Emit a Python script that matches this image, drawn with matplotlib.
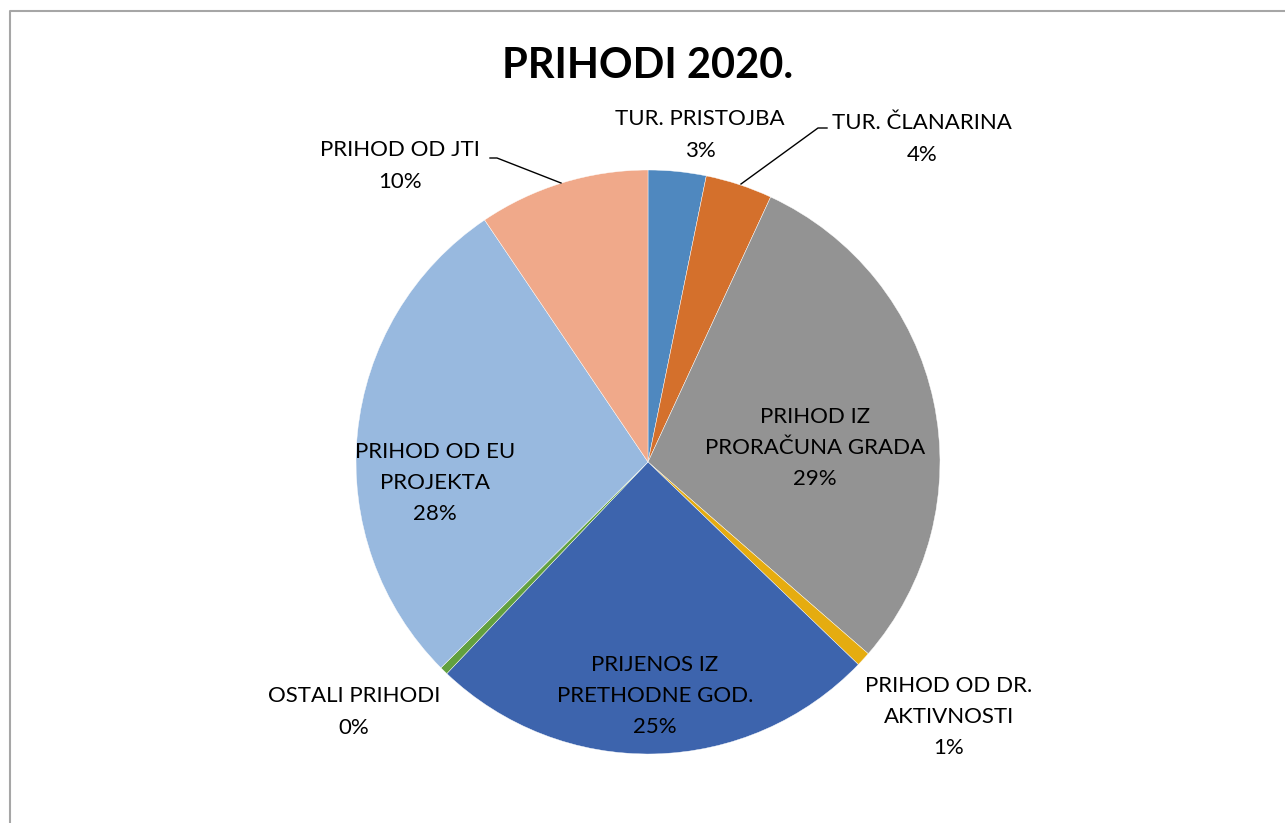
import matplotlib
matplotlib.use('Agg')
import matplotlib.pyplot as plt

# data
categories = ['TUR. PRISTOJBA', 'TUR. ČLANARINA', 'PRIHOD IZ PRORAČUNA GRADA',
              'PRIHOD OD DR. AKTIVNOSTI', 'PRIJENOS IZ PRETHODNE GOD.',
              'OSTALI PRIHODI', 'PRIHOD OD EU PROJEKTA', 'PRIHOD OD JTI']
shares = [3.2, 3.7, 29.5, 0.8, 24.9, 0.45, 28.0, 9.45]
pct_labels = ['3%', '4%', '29%', '1%', '25%', '0%', '28%', '10%']
colors = ['#4F88BF', '#D4702C', '#939393', '#E5AC10',
          '#3D64AD', '#62A03F', '#98B9DF', '#F0A98A']

plt.rcParams['font.family'] = ['Lato', 'DejaVu Sans']

W, H = 1285, 823
fig = plt.figure(figsize=(W / 100, H / 100), dpi=100)
ax = fig.add_axes([0, 0, 1, 1])

# outer frame (only left and top visible)
ax.plot([9.5, 9.5, W], [0, H - 11, H - 11], color='#A6A6A6', lw=1.5)

cx, cy, r = 648, H - 462, 292
ax.pie(shares, colors=colors, startangle=90, counterclock=False,
       center=(cx, cy), radius=r, frame=True,
       wedgeprops=dict(linewidth=0.3, edgecolor='white'))
ax.set_xlim(0, W)
ax.set_ylim(0, H)
ax.set_aspect('equal')
ax.axis('off')

ax.text(648, H - 66, 'PRIHODI 2020.', ha='center', va='center',
        fontsize=30, fontweight='bold')

# label text per slice (wrapped like the original)
label_text = ['TUR. PRISTOJBA', 'TUR. ČLANARINA', 'PRIHOD IZ\nPRORAČUNA GRADA',
              'PRIHOD OD DR.\nAKTIVNOSTI', 'PRIJENOS IZ\nPRETHODNE GOD.',
              'OSTALI PRIHODI', 'PRIHOD OD EU\nPROJEKTA', 'PRIHOD OD JTI']
label_pos = [(700, 135), (922, 139), (815, 448), (949, 717),
             (655, 696), (354, 712), (435, 483), (400, 166)]
for txt, pct, (x, y) in zip(label_text, pct_labels, label_pos):
    ax.text(x, H - y, txt + '\n' + pct, ha='center', va='center',
            fontsize=16, linespacing=1.7, color='black')

# leader lines
ax.plot([490, 497, 561], [H - 158, H - 158, H - 183], color='black', lw=1)
ax.plot([827, 818, 741], [H - 128, H - 128, H - 184], color='black', lw=1)

fig.savefig('out.png', dpi=100)
